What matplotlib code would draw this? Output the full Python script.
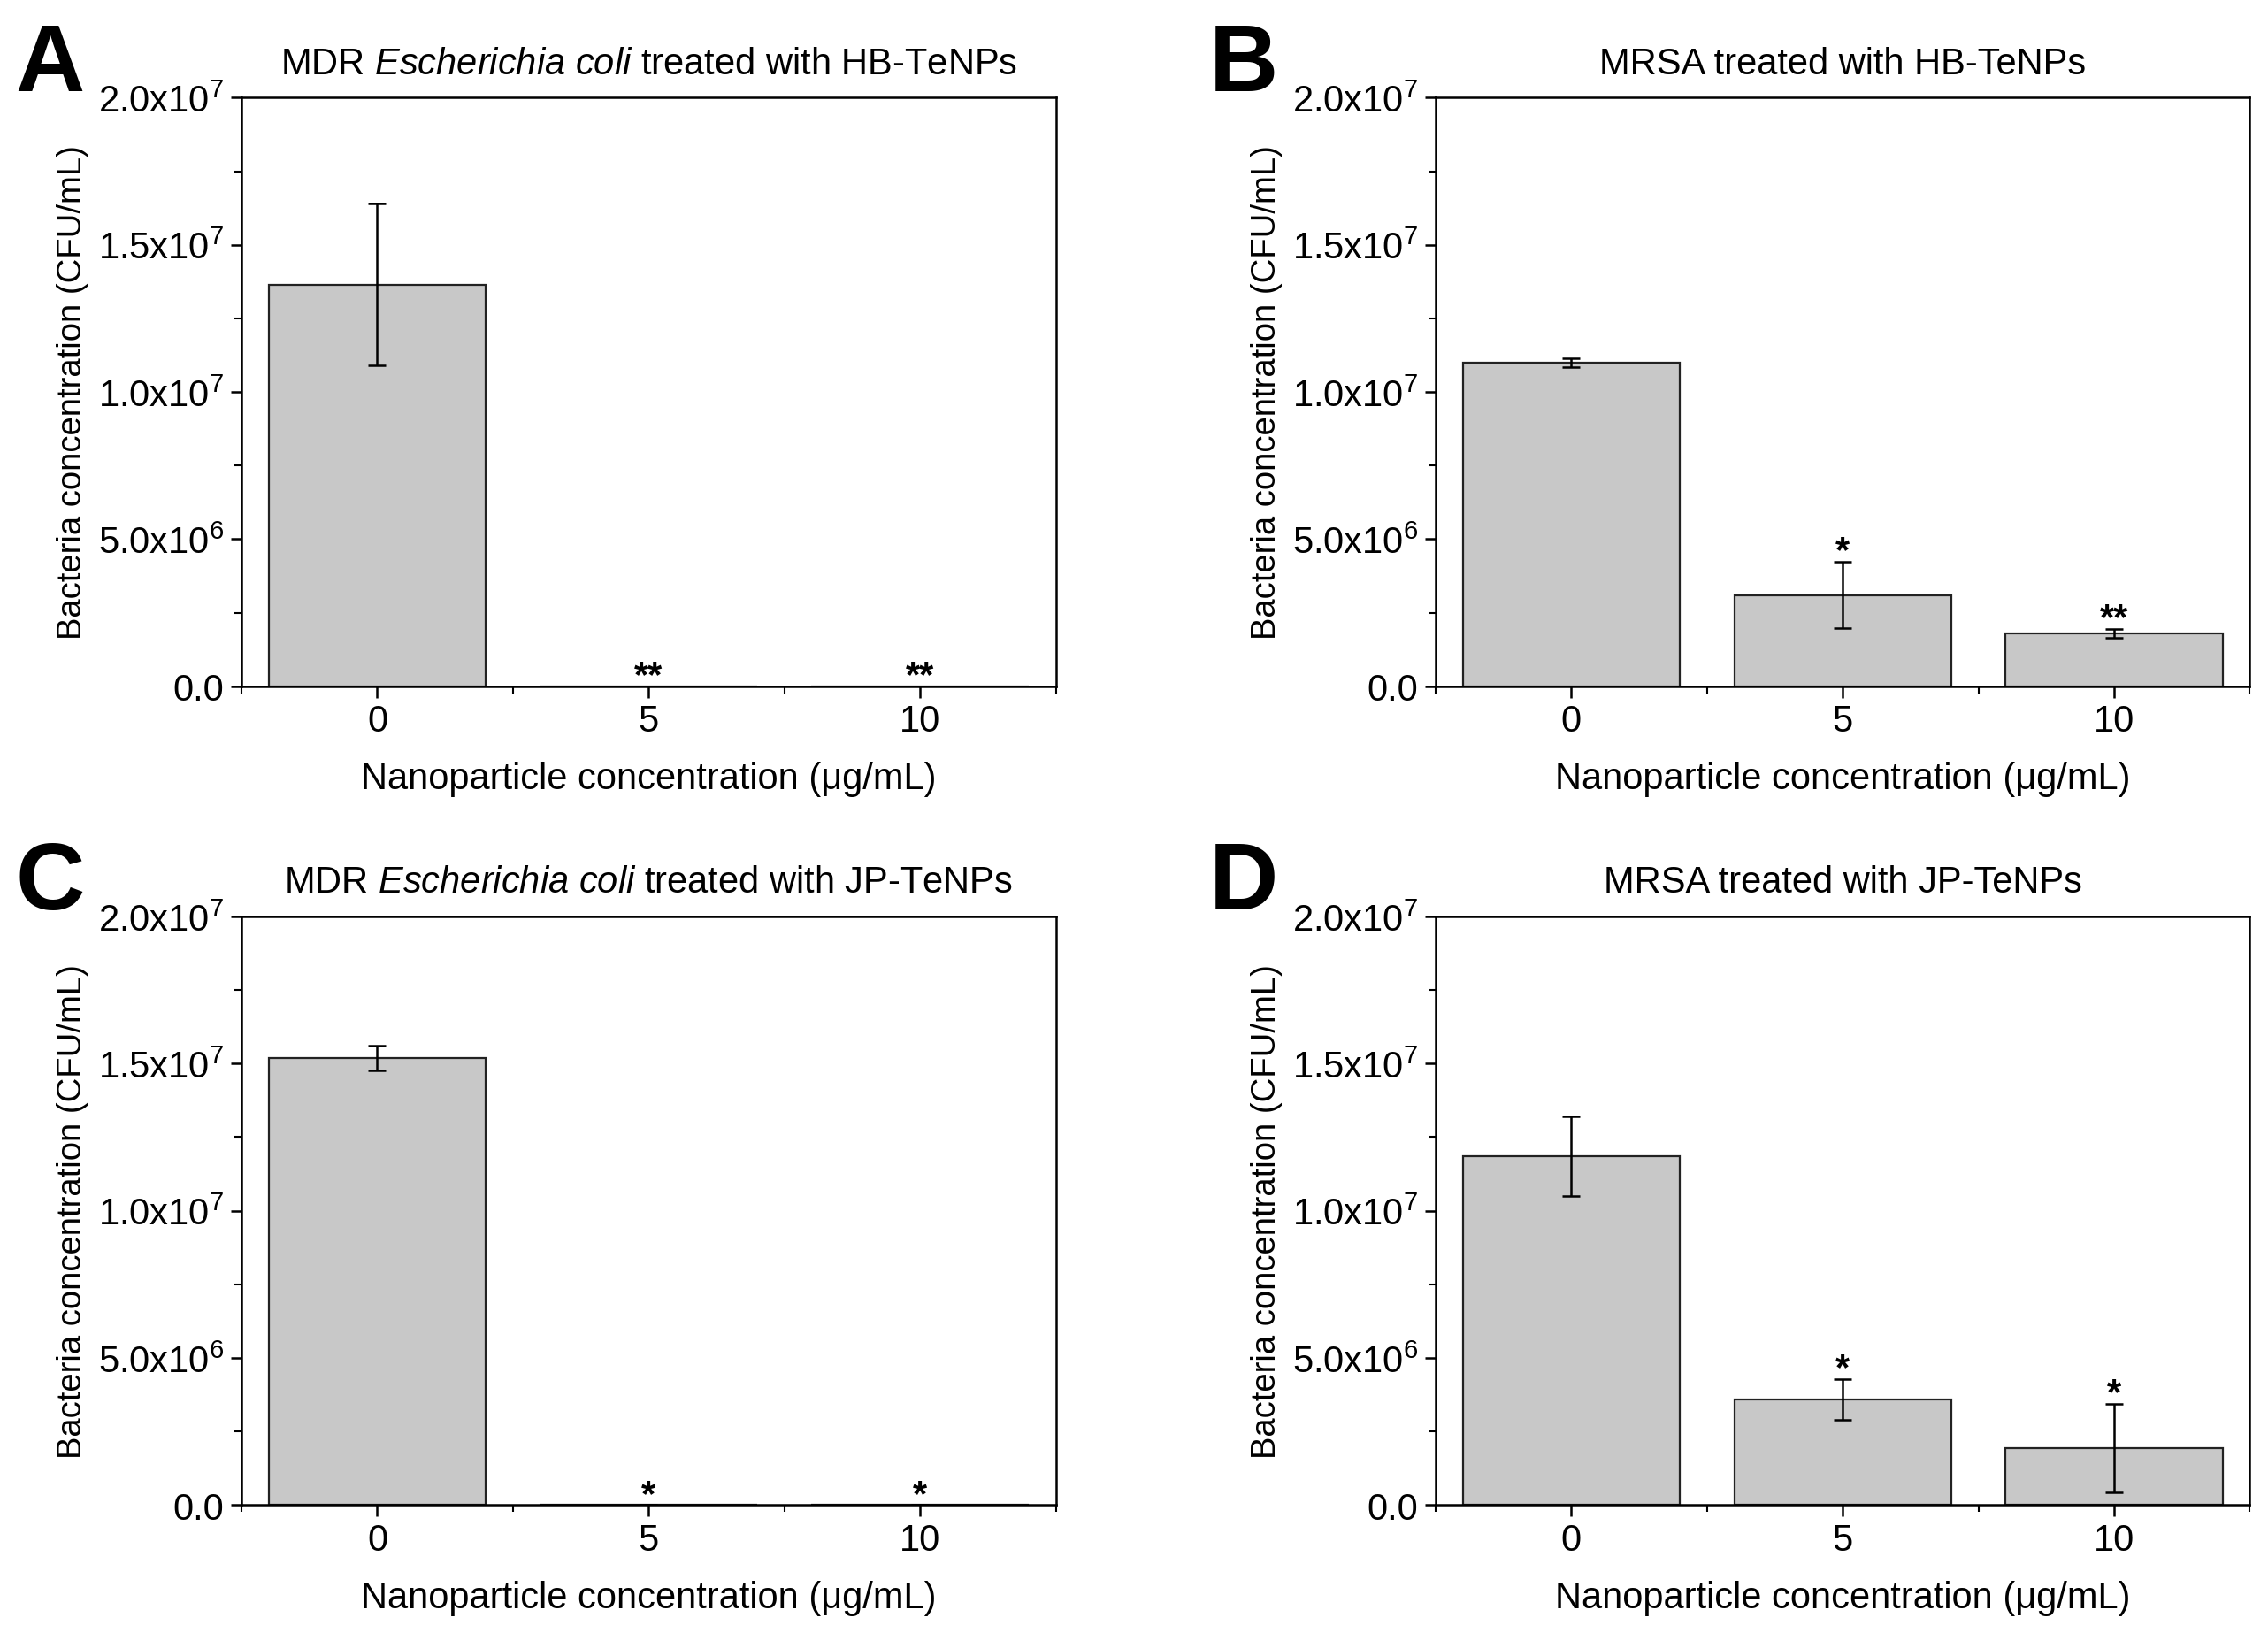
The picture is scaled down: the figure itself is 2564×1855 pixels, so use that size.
import numpy as np
import matplotlib
matplotlib.use("Agg")
import matplotlib.pyplot as plt
from matplotlib.ticker import MultipleLocator, FixedLocator

plt.rcParams['font.family'] = ['Liberation Sans', 'DejaVu Sans']
plt.rcParams['mathtext.fontset'] = 'custom'
plt.rcParams['mathtext.rm'] = 'Liberation Sans'
plt.rcParams['mathtext.it'] = 'Liberation Sans:italic'
plt.rcParams['mathtext.bf'] = 'Liberation Sans:bold'

# Data
concentrations = ['0', '5', '10']

ecoli_hb_mean = [1.365e7, 0.0, 0.0]
ecoli_hb_err = [2.75e6, 0.0, 0.0]
ecoli_hb_sig = ['', '**', '**']

mrsa_hb_mean = [1.10e7, 3.1e6, 1.8e6]
mrsa_hb_err = [1.5e5, 1.13e6, 1.5e5]
mrsa_hb_sig = ['', '*', '**']

ecoli_jp_mean = [1.52e7, 0.0, 0.0]
ecoli_jp_err = [4.2e5, 0.0, 0.0]
ecoli_jp_sig = ['', '*', '*']

mrsa_jp_mean = [1.185e7, 3.59e6, 1.93e6]
mrsa_jp_err = [1.35e6, 6.9e5, 1.5e6]
mrsa_jp_sig = ['', '*', '*']

yticks = [0, 5e6, 1e7, 1.5e7, 2e7]
ytick_labels = ['0.0', r'$\mathregular{5.0x10^{6}}$', r'$\mathregular{1.0x10^{7}}$',
                r'$\mathregular{1.5x10^{7}}$', r'$\mathregular{2.0x10^{7}}$']

panels = [
    ('A', r'MDR $\mathit{Escherichia\ coli}$ treated with HB-TeNPs', ecoli_hb_mean, ecoli_hb_err, ecoli_hb_sig),
    ('B', 'MRSA treated with HB-TeNPs', mrsa_hb_mean, mrsa_hb_err, mrsa_hb_sig),
    ('C', r'MDR $\mathit{Escherichia\ coli}$ treated with JP-TeNPs', ecoli_jp_mean, ecoli_jp_err, ecoli_jp_sig),
    ('D', 'MRSA treated with JP-TeNPs', mrsa_jp_mean, mrsa_jp_err, mrsa_jp_sig),
]

fig = plt.figure(figsize=(25.64, 18.56), dpi=100)

lefts = [0.1065, 0.633, 0.1065, 0.633]
bottoms = [0.5815, 0.5815, 0.0828, 0.0828]
w, h = 0.359, 0.3585
fs = 30

for i, (letter, title, mean, err, sig) in enumerate(panels):
    ax = fig.add_axes([lefts[i], bottoms[i], w, h])
    x = np.arange(len(concentrations))
    ax.bar(x, mean, width=0.8, color='#c8c8c8', edgecolor='#222222', linewidth=1.6)
    ax.errorbar(x, mean, yerr=err, fmt='none', ecolor='black', elinewidth=1.8,
                capsize=7, capthick=1.8)
    for xi, m, e, s in zip(x, mean, err, sig):
        if s:
            ax.text(xi, m + e - 2.5e5, s, ha='center', va='bottom', fontsize=fs, fontweight='bold')
    ax.set_xlim(-0.5, 2.5)
    ax.set_ylim(0, 2e7)
    ax.set_xticks(x)
    ax.set_xticklabels(concentrations)
    ax.xaxis.set_minor_locator(FixedLocator([-0.5, 0.5, 1.5, 2.5]))
    ax.set_yticks(yticks)
    ax.set_yticklabels(ytick_labels)
    ax.yaxis.set_minor_locator(MultipleLocator(2.5e6))
    ax.tick_params(which='major', direction='out', length=9, width=1.8, labelsize=fs, pad=5)
    ax.tick_params(which='minor', direction='out', length=6, width=1.5)
    for sp in ax.spines.values():
        sp.set_linewidth(1.8)
    ax.set_xlabel('Nanoparticle concentration (μg/mL)', fontsize=fs, labelpad=18)
    ax.set_ylabel('Bacteria concentration (CFU/mL)', fontsize=27.5, labelpad=8)
    ax.set_title(title, fontsize=fs, pad=20)
    ax.text(-0.278, 1.13, letter, transform=ax.transAxes, fontsize=78, fontweight='bold',
            ha='left', va='top')

fig.savefig('out.png', dpi=100)
